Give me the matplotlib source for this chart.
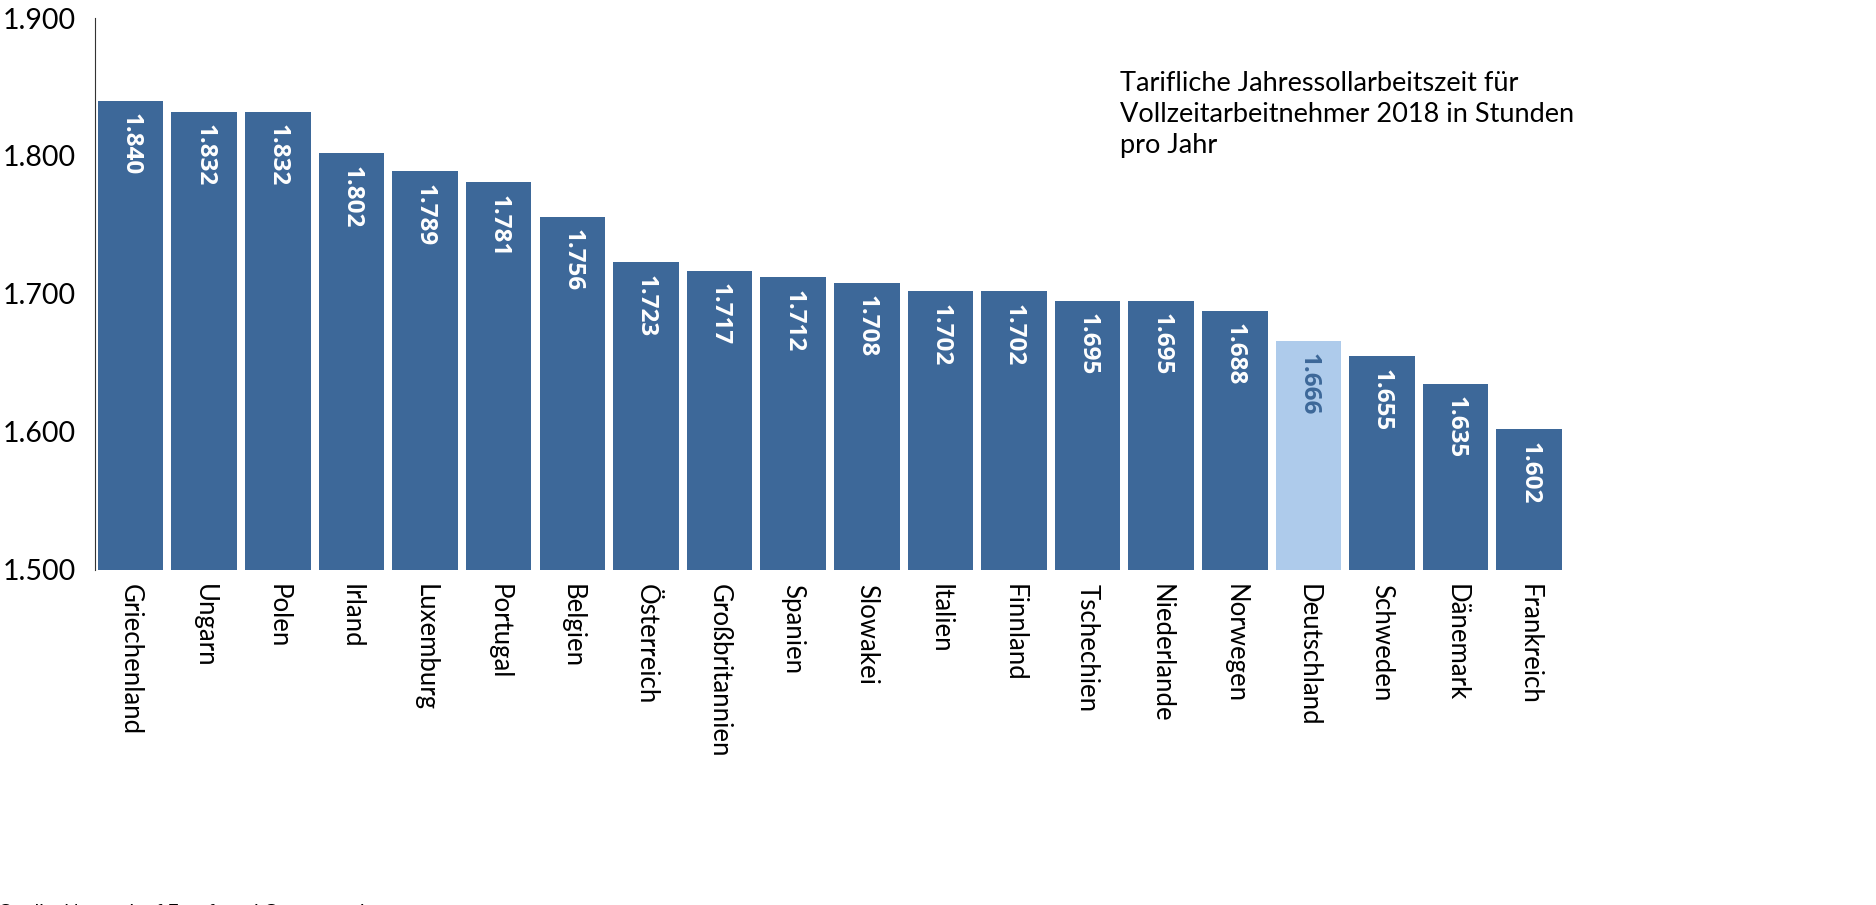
import matplotlib.pyplot as plt
import numpy as np

plt.rcParams['font.family'] = ['Lato', 'DejaVu Sans']

laender = ["Griechenland", "Ungarn", "Polen", "Irland", "Luxemburg", "Portugal",
           "Belgien", "Österreich", "Großbritannien", "Spanien", "Slowakei",
           "Italien", "Finnland", "Tschechien", "Niederlande", "Norwegen",
           "Deutschland", "Schweden", "Dänemark", "Frankreich"]
stunden = [1840, 1832, 1832, 1802, 1789, 1781, 1756, 1723, 1717, 1712, 1708,
           1702, 1702, 1695, 1695, 1688, 1666, 1655, 1635, 1602]
highlight = "Deutschland"

dunkel = "#3d6899"
hell = "#aecbeb"

def fmt(v):
    return f"{v:,}".replace(",", ".")

fig = plt.figure(figsize=(18.76, 9.05), dpi=100)
ax = fig.add_axes([0.0506, 0.3702, 0.7836, 0.6099])

x = np.arange(len(laender))
farben = [hell if l == highlight else dunkel for l in laender]
bars = ax.bar(x, stunden, width=0.89, color=farben)

# labels inside the bars, rotated
for b, v, l in zip(bars, stunden, laender):
    c = dunkel if l == highlight else "white"
    ax.annotate(fmt(v), (b.get_x() + b.get_width() / 2, v),
                xytext=(0, -9), textcoords="offset points",
                rotation=270, ha="center", va="top",
                fontsize=17.5, fontweight="bold", color=c,
                family=["Open Sans", "DejaVu Sans"])

ax.set_xlim(-0.485, len(laender) - 0.515)
ax.set_ylim(1500, 1900)
ax.set_yticks([1500, 1600, 1700, 1800, 1900])
ax.set_yticklabels([fmt(t) for t in [1500, 1600, 1700, 1800, 1900]], fontsize=20.5)
ax.set_xticks(x)
ax.set_xticklabels(laender, rotation=270, fontsize=18.5, va="top", ha="center")
ax.tick_params(length=0, pad=10)
ax.tick_params(axis="y", pad=14)

for s in ["top", "right", "bottom"]:
    ax.spines[s].set_visible(False)
ax.spines["left"].set_color("#333333")

fig.text(0.597, 0.922, "Tarifliche Jahressollarbeitszeit für\nVollzeitarbeitnehmer 2018 in Stunden\npro Jahr",
         fontsize=19.5, va="top", ha="left", linespacing=1.3)
fig.text(-0.001, -0.008, "Quelle: Network of Eurofound Correspondents",
         fontsize=14, va="center", ha="left")

fig.savefig("out.png", dpi=100)
